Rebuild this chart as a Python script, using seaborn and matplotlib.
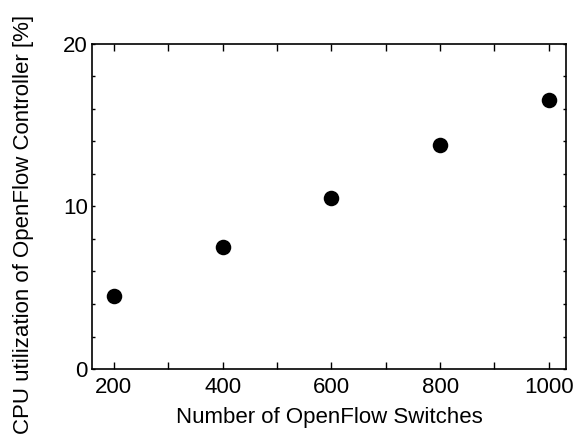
import matplotlib
matplotlib.use("Agg")
import matplotlib.pyplot as plt
import seaborn as sns
import pandas as pd
from matplotlib.ticker import MultipleLocator, FixedLocator

switches = [200, 400, 600, 800, 1000]
cpu_util = [4.47, 7.5, 10.5, 13.8, 16.55]
x_label = "Number of OpenFlow Switches"
y_label = "CPU utilization of OpenFlow Controller [%]"

sns.set_theme(style="ticks")
plt.rcParams['font.family'] = ['Liberation Sans', 'DejaVu Sans']

df = pd.DataFrame({"switches": switches, "cpu": cpu_util})

fig = plt.figure(figsize=(5.76, 4.48), dpi=100)
ax = fig.add_axes([0.160, 0.1763, 0.823, 0.7257])

sns.scatterplot(data=df, x="switches", y="cpu", ax=ax, color="black",
                s=125, edgecolor="black", linewidth=0, legend=False, zorder=3)

ax.set_xlim(160, 1032)
ax.set_ylim(0, 20)
ax.xaxis.set_major_locator(FixedLocator([200, 400, 600, 800, 1000]))
ax.xaxis.set_minor_locator(FixedLocator([300, 500, 700, 900]))
ax.yaxis.set_major_locator(FixedLocator([0, 10, 20]))
ax.yaxis.set_minor_locator(MultipleLocator(2))

ax.tick_params(axis='x', which='both', direction='in', top=True, bottom=True,
               length=5, width=1, color='black', labelsize=16, pad=6, labelcolor='black')
ax.tick_params(axis='y', which='both', direction='in', left=True, right=True,
               length=2.5, width=1, color='black', labelsize=16, pad=3, labelcolor='black')

for sp in ax.spines.values():
    sp.set_visible(True)
    sp.set_color('black')
    sp.set_linewidth(1.2)

ax.set_xlabel(x_label, fontsize=16, color='black', labelpad=6)
ax.set_ylabel(y_label, fontsize=16, color='black')
ax.yaxis.set_label_coords(-0.122, 0.446)
ax.grid(False)

fig.savefig("out.png", dpi=100)
